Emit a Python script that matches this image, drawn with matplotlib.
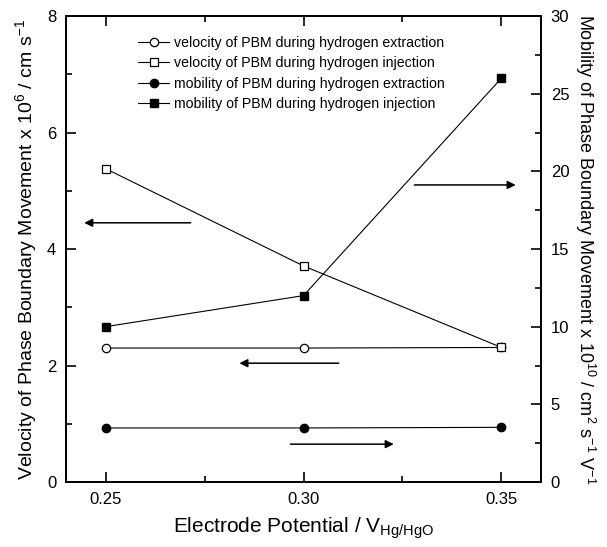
import matplotlib
matplotlib.use("Agg")
import matplotlib.pyplot as plt
from matplotlib.ticker import MultipleLocator, FormatStrFormatter

plt.rcParams['font.family'] = ['Liberation Sans', 'DejaVu Sans']
plt.rcParams['mathtext.default'] = 'regular'

# data
potential = [0.25, 0.30, 0.35]
vel_extraction = [2.30, 2.30, 2.31]
vel_injection = [5.38, 3.71, 2.31]
mob_extraction = [3.48, 3.48, 3.52]
mob_injection = [10.0, 12.0, 26.0]

fig = plt.figure(figsize=(6.07, 5.47), dpi=100)
ax = fig.add_axes([0.1087, 0.1188, 0.7826, 0.8519])
ax2 = ax.twinx()

lw = 0.8
ms = 6
h1, = ax.plot(potential, vel_extraction, '-o', color='black', lw=lw, ms=ms,
              mfc='white', mec='black', mew=0.9,
              label='velocity of PBM during hydrogen extraction')
h2, = ax.plot(potential, vel_injection, '-s', color='black', lw=lw, ms=ms,
              mfc='white', mec='black', mew=0.9,
              label='velocity of PBM during hydrogen injection')
h3, = ax2.plot(potential, mob_extraction, '-o', color='black', lw=lw, ms=ms,
               mfc='black', label='mobility of PBM during hydrogen extraction')
h4, = ax2.plot(potential, mob_injection, '-s', color='black', lw=lw, ms=ms,
               mfc='black', label='mobility of PBM during hydrogen injection')

ax.set_xlim(0.24, 0.36)
ax.set_ylim(0, 8)
ax2.set_ylim(0, 30)

ax.xaxis.set_major_locator(MultipleLocator(0.05))
ax.xaxis.set_minor_locator(MultipleLocator(0.025))
ax.xaxis.set_major_formatter(FormatStrFormatter('%.2f'))
ax.yaxis.set_major_locator(MultipleLocator(2))
ax.yaxis.set_minor_locator(MultipleLocator(1))
ax2.yaxis.set_major_locator(MultipleLocator(5))
ax2.yaxis.set_minor_locator(MultipleLocator(2.5))

ax.tick_params(axis='x', which='both', direction='in', top=True, labelsize=12, pad=7)
ax.tick_params(axis='y', which='both', direction='in', labelsize=12, pad=7)
ax2.tick_params(axis='y', which='both', direction='in', labelsize=12, pad=7)
for a in (ax, ax2):
    a.tick_params(which='major', length=7, width=1.2)
    a.tick_params(which='minor', length=4, width=1.2)
    for s in a.spines.values():
        s.set_linewidth(1.3)

ax.set_xlabel('Electrode Potential / V$_{Hg/HgO}$', fontsize=15, labelpad=6)
ax.set_ylabel('Velocity of Phase Boundary Movement x 10$^{6}$ / cm s$^{-1}$',
              fontsize=14, labelpad=6)
ax2.set_ylabel('Mobility of Phase Boundary Movement x 10$^{10}$ / cm$^{2}$ s$^{-1}$ V$^{-1}$',
               fontsize=13, rotation=270, labelpad=20)

# arrows pointing to the relevant axis
arrow = dict(arrowstyle='-|>', color='black', lw=1.1, mutation_scale=12)
ax.annotate('', xy=(0.2439, 4.45), xytext=(0.2722, 4.45), arrowprops=arrow)
ax.annotate('', xy=(0.3543, 5.10), xytext=(0.3273, 5.10), arrowprops=arrow)
ax.annotate('', xy=(0.2831, 2.04), xytext=(0.3096, 2.04), arrowprops=arrow)
ax.annotate('', xy=(0.3235, 0.65), xytext=(0.2960, 0.65), arrowprops=arrow)

ax.legend(handles=[h1, h2, h3, h4], loc='upper left',
          bbox_to_anchor=(0.125, 0.985), frameon=False, fontsize=10.2,
          handlelength=2.2, handletextpad=0.3, labelspacing=0.45)

fig.savefig('out.png', dpi=100)
